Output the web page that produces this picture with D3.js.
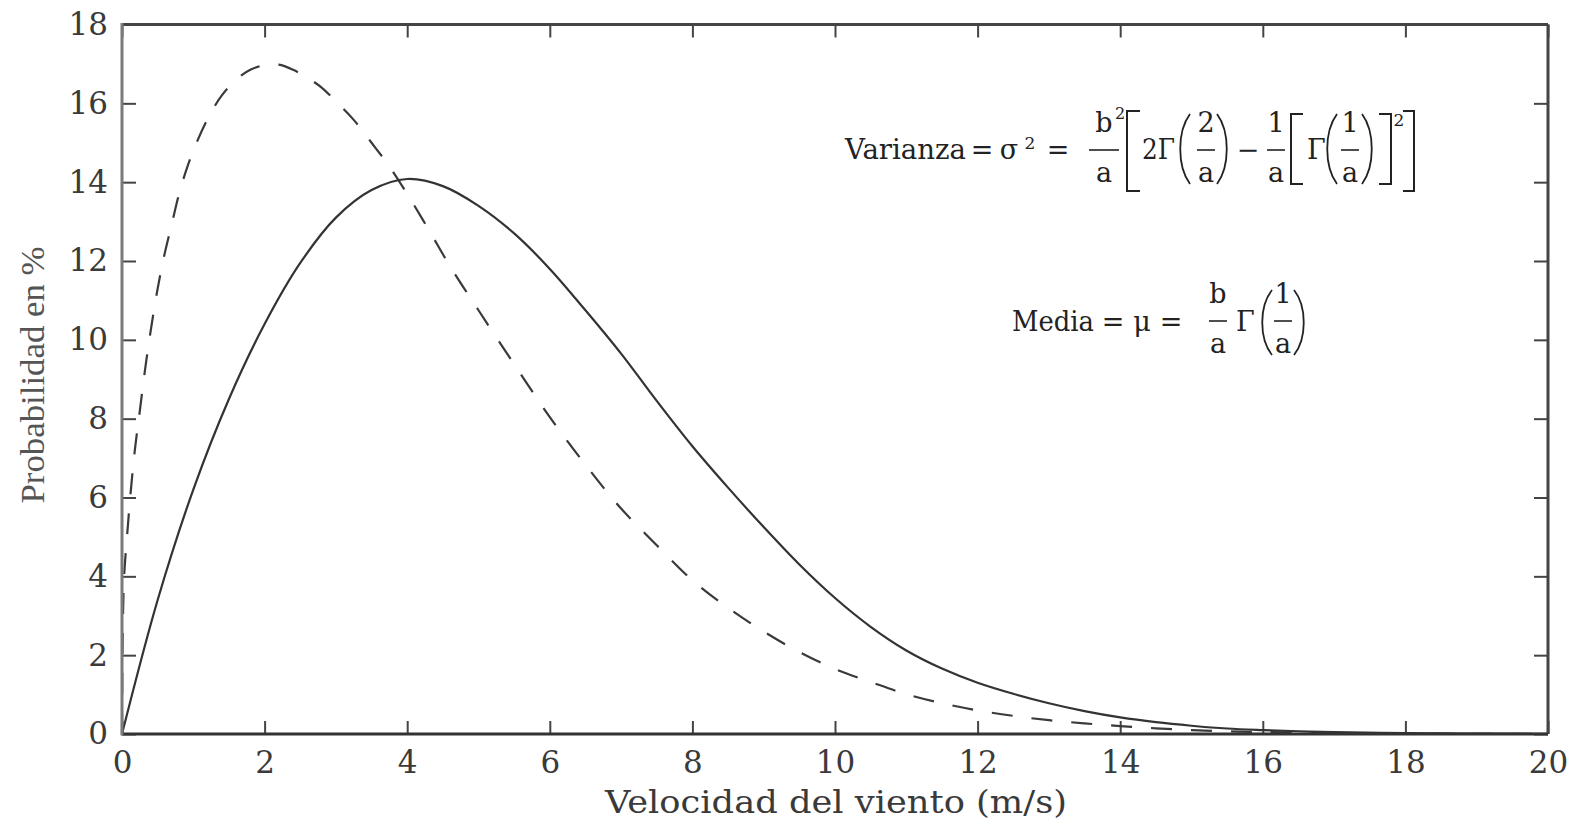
<!DOCTYPE html>
<html>
<head>
<meta charset="utf-8">
<script src="https://cdn.jsdelivr.net/npm/d3@7/dist/d3.min.js"></script>
<style>
  html, body { margin: 0; padding: 0; background: #fff; }
  svg { display: block; }
</style>
</head>
<body>
<svg id="chart" width="1581" height="820"></svg>
<script>
// ---------- data ----------
const solidX = [0, 0.5, 1, 1.5, 2, 2.5, 3, 3.5, 4, 4.5, 5, 5.5, 6, 6.5, 7, 7.5, 8, 8.5, 9, 9.5, 10, 10.5, 11, 11.5, 12, 12.5, 13, 13.5, 14, 14.5, 15, 15.5, 16, 16.5, 17, 18, 19, 20];
const solidY = [0, 3.4, 6.2, 8.5, 10.4, 11.95, 13.1, 13.8, 14.08, 13.9, 13.4, 12.7, 11.8, 10.75, 9.65, 8.45, 7.3, 6.25, 5.25, 4.3, 3.45, 2.72, 2.12, 1.66, 1.3, 1.02, 0.78, 0.58, 0.42, 0.3, 0.21, 0.14, 0.1, 0.07, 0.05, 0.02, 0.01, 0.005];

const dashX = [0, 0.01, 0.03, 0.07, 0.12, 0.18, 0.25, 0.32, 0.4, 0.5, 0.6, 0.7, 0.8, 0.9, 1.0, 1.2, 1.4, 1.6, 1.8, 2.0, 2.2, 2.4, 2.6, 2.8, 3.0, 3.25, 3.5, 3.75, 4.0, 4.3, 4.6, 5.0, 5.5, 6.0, 6.5, 7.0, 7.5, 8.0, 8.5, 9.0, 9.5, 10.0, 10.5, 11.0, 11.5, 12.0, 12.5, 13.0, 13.5, 14.0, 14.5, 15.0, 15.5, 16.0, 17.0, 18.0, 19.0, 20.0];
const dashY = [0, 2.5, 4.0, 5.0, 6.1, 7.2, 8.2, 9.2, 10.2, 11.3, 12.2, 12.95, 13.7, 14.3, 14.8, 15.6, 16.2, 16.6, 16.85, 16.97, 16.98, 16.85, 16.65, 16.4, 16.05, 15.58, 15.0, 14.4, 13.7, 12.8, 11.87, 10.75, 9.38, 8.04, 6.83, 5.72, 4.79, 3.9, 3.2, 2.6, 2.08, 1.65, 1.32, 1.01, 0.78, 0.6, 0.46, 0.35, 0.27, 0.2, 0.145, 0.1, 0.07, 0.05, 0.02, 0.01, 0.005, 0.002];

const xTicks = [0, 2, 4, 6, 8, 10, 12, 14, 16, 18, 20];
const yTicks = [0, 2, 4, 6, 8, 10, 12, 14, 16, 18];
const xLabel = "Velocidad del viento (m/s)";
const yLabel = "Probabilidad en %";

// ---------- layout ----------
const L = 122, T = 24.5, R = 1548, B = 734;
const svg = d3.select("#chart");
const x = d3.scaleLinear().domain([0, 20]).range([L, R]);
const y = d3.scaleLinear().domain([0, 18]).range([B, T]);

const tickFont = "'DejaVu Serif', serif";
const tickColor = "#3a3a3a";

function styleAxis(g) {
  g.select(".domain").remove();
  g.selectAll(".tick line").attr("stroke", "#444").attr("stroke-width", 2);
  g.selectAll(".tick text").attr("fill", tickColor)
    .style("font-family", tickFont).style("font-size", "31px");
}
svg.append("g").attr("transform", `translate(0,${B})`)
  .call(d3.axisBottom(x).tickValues(xTicks).tickSize(-13).tickPadding(17).tickFormat(d3.format("d")))
  .call(styleAxis);
svg.append("g").attr("transform", `translate(0,${T})`)
  .call(d3.axisTop(x).tickValues(xTicks).tickSize(-13).tickFormat(""))
  .call(styleAxis);
svg.append("g").attr("transform", `translate(${L},0)`)
  .call(d3.axisLeft(y).tickValues(yTicks).tickSize(-14).tickPadding(14).tickFormat(d3.format("d")))
  .call(styleAxis);
svg.append("g").attr("transform", `translate(${R},0)`)
  .call(d3.axisRight(y).tickValues(yTicks).tickSize(-14).tickFormat(""))
  .call(styleAxis);

// curves
const line = d3.line().x(d => x(d[0])).y(d => y(d[1])).curve(d3.curveCatmullRom.alpha(0.5));
svg.append("path").datum(dashX.map((v, i) => [v, dashY[i]]))
  .attr("d", line).attr("fill", "none").attr("stroke", "#3a3a3a")
  .attr("stroke-width", 2.2).attr("stroke-dasharray", "21,19");
svg.append("path").datum(solidX.map((v, i) => [v, solidY[i]]))
  .attr("d", line).attr("fill", "none").attr("stroke", "#333")
  .attr("stroke-width", 2.2);

// frame
svg.append("line").attr("x1", L).attr("x2", R).attr("y1", T).attr("y2", T).attr("stroke", "#444").attr("stroke-width", 3);
svg.append("line").attr("x1", R).attr("x2", R).attr("y1", T).attr("y2", B).attr("stroke", "#444").attr("stroke-width", 3);
svg.append("line").attr("x1", L).attr("x2", R).attr("y1", B).attr("y2", B).attr("stroke", "#333").attr("stroke-width", 3);
svg.append("line").attr("x1", L).attr("x2", L).attr("y1", T - 1.5).attr("y2", B + 1.5).attr("stroke", "#7a7a7a").attr("stroke-width", 3);

// axis titles
svg.append("text").attr("x", 836).attr("y", 813).attr("text-anchor", "middle")
  .attr("textLength", 462).attr("lengthAdjust", "spacingAndGlyphs")
  .style("font-family", tickFont).style("font-size", "31px").attr("fill", tickColor)
  .text(xLabel);
svg.append("text").attr("transform", "translate(44,375) rotate(-90)").attr("text-anchor", "middle")
  .attr("textLength", 257).attr("lengthAdjust", "spacingAndGlyphs")
  .style("font-family", "'Liberation Serif', serif").style("font-size", "33px").attr("fill", "#555")
  .text(yLabel);

// ---------- formulas ----------
const fF = "'DejaVu Serif', serif";
const fc = "#222";
const FS = 27;
const ann = svg.append("g");
function txt(s, xp, yp, size, anchor, len) {
  const t = ann.append("text").attr("x", xp).attr("y", yp)
    .attr("text-anchor", anchor || "start")
    .style("font-family", fF).style("font-size", (size || FS) + "px").attr("fill", fc).text(s);
  if (len) t.attr("textLength", len).attr("lengthAdjust", "spacingAndGlyphs");
  return t;
}
function hline(x1, x2, yy) {
  ann.append("line").attr("x1", x1).attr("x2", x2).attr("y1", yy).attr("y2", yy)
    .attr("stroke", fc).attr("stroke-width", 1.6);
}
function bracket(x0, x1, y0, y1, open) {
  const p = open ? `M${x1},${y0} H${x0} V${y1} H${x1}` : `M${x0},${y0} H${x1} V${y1} H${x0}`;
  ann.append("path").attr("d", p).attr("fill", "none").attr("stroke", fc).attr("stroke-width", 2);
}
function paren(x0, x1, y0, y1, open) {
  const p = open
    ? `M${x1},${y0} C${x0 - 1},${y0 + (y1 - y0) * 0.25} ${x0 - 1},${y1 - (y1 - y0) * 0.25} ${x1},${y1}`
    : `M${x0},${y0} C${x1 + 1},${y0 + (y1 - y0) * 0.25} ${x1 + 1},${y1 - (y1 - y0) * 0.25} ${x0},${y1}`;
  ann.append("path").attr("d", p).attr("fill", "none").attr("stroke", fc).attr("stroke-width", 1.8);
}
function frac(num, den, cx, barY, w, sup) {
  txt(num, cx, barY - 18, FS, "middle");
  if (sup) txt(sup, cx + 11, barY - 31, 16, "start");
  txt(den, cx, barY + 32, FS, "middle");
  hline(cx - w / 2, cx + w / 2, barY);
}

// Varianza formula
const b1 = 159, bar1 = 150;
txt("Varianza", 845, b1, FS, "start", 121);
txt("=", 982, b1, FS, "middle");
txt("σ", 1009, b1, FS, "middle");
txt("2", 1030, b1 - 10, 17, "middle");
txt("=", 1058, b1, FS, "middle");
frac("b", "a", 1104, bar1, 30, "2");
bracket(1127, 1140, 111, 191, true);
txt("2Γ", 1142, b1, FS, "start", 33);
paren(1178, 1190, 114, 184, true);
frac("2", "a", 1206, bar1, 18);
paren(1217, 1229, 114, 184, false);
txt("−", 1248, b1, FS, "middle");
frac("1", "a", 1276, bar1, 18);
bracket(1291, 1303, 114, 184, true);
txt("Γ", 1307, b1, FS, "start");
paren(1325, 1337, 114, 184, true);
frac("1", "a", 1350, bar1, 18);
paren(1362, 1374, 114, 184, false);
bracket(1379, 1391, 114, 184, false);
txt("2", 1399, 126, 17, "middle");
bracket(1403, 1414, 111, 191, false);

// Media formula
const b2 = 331, bar2 = 321;
txt("Media", 1012, b2, FS, "start", 82);
txt("=", 1113, b2, FS, "middle");
txt("μ", 1142, b2, FS, "middle");
txt("=", 1171, b2, FS, "middle");
frac("b", "a", 1218, bar2, 18);
txt("Γ", 1236, b2, FS, "start");
paren(1260, 1272, 290, 355, true);
frac("1", "a", 1283, bar2, 18);
paren(1294, 1306, 290, 355, false);
</script>
</body>
</html>
